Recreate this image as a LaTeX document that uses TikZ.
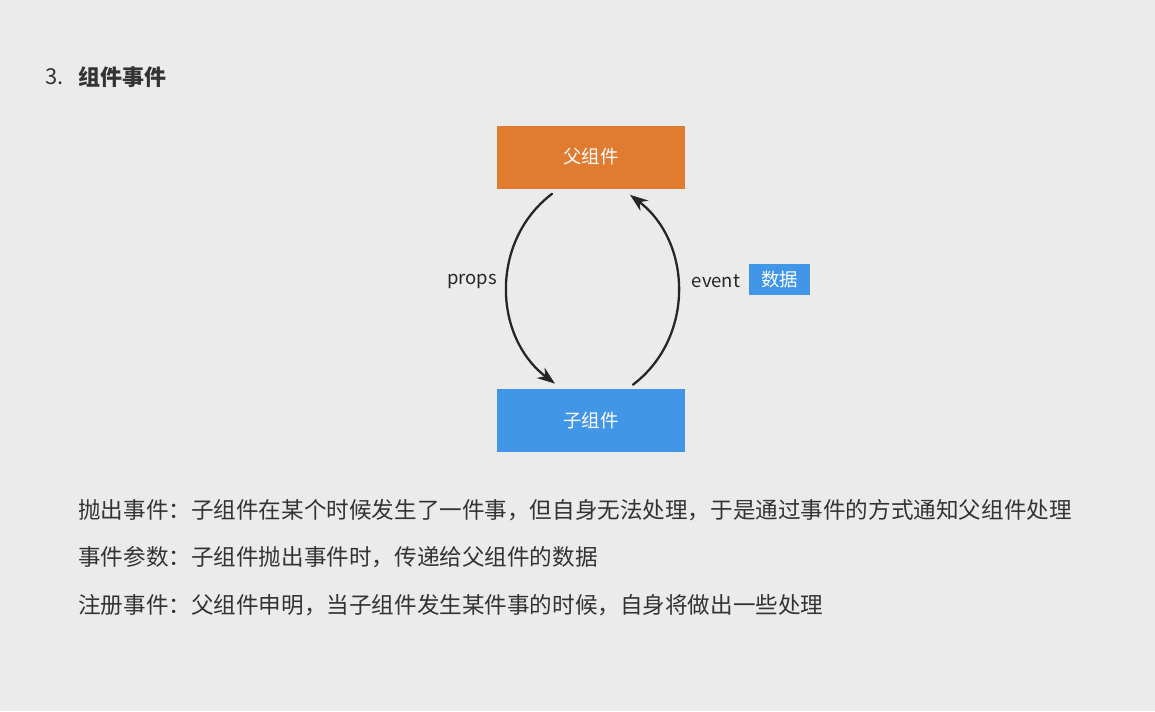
\documentclass[tikz,border=0pt]{standalone}
\usepackage{fontspec}
\setmainfont{Noto Sans CJK SC}
\usepackage{tikz}
\usetikzlibrary{positioning,arrows.meta,calc}
\usepackage{xcolor}
\definecolor{pagebg}{HTML}{EBEBEB}
\definecolor{parentorange}{HTML}{E07B30}
\definecolor{childblue}{HTML}{4196E8}
\definecolor{bodytext}{HTML}{333333}

\begin{document}
\begin{tikzpicture}[
  x=0.02cm, y=-0.02cm,
  >={Stealth[length=3.6mm, width=2.6mm]},
  comp/.style={minimum width=3.76cm, minimum height=1.26cm, inner sep=0pt, text=white, font=\fontsize{10.5}{12}\selectfont},
  tag/.style={fill=childblue, minimum width=1.22cm, minimum height=0.62cm, inner sep=0pt, text=white, font=\fontsize{10.5}{12}\selectfont},
  lbl/.style={text=black!85, font=\fontsize{10.5}{12}\selectfont, inner sep=1pt},
  line/.style={text=bodytext, anchor=west, inner sep=0pt, font=\fontsize{12.85}{15}\selectfont},
  flow/.style={->, line width=1.3pt, black!85, line cap=round},
]

% page
\fill[pagebg] (0,0) rectangle (1155,711);
\useasboundingbox (0,0) rectangle (1155,711);

% heading
\node[anchor=west, inner sep=0pt, text=bodytext, font=\fontsize{12.5}{15}\selectfont] (num) at (45,77) {3.};
\node[anchor=west, inner sep=0pt, text=bodytext, font=\fontsize{12.5}{15}\selectfont\bfseries] (title) at (78,77) {组件事件};

% components
\node[comp, fill=parentorange] (parent) at (591,157) {父组件};
\node[comp, fill=childblue] (child) at (591,420.5) {子组件};

% props down, event up
\draw[flow] ($(parent.south)+(-39,5)$) .. controls +(-62,47) and +(-62,-47) .. ($(child.north)+(-36,-5)$);
\draw[flow] ($(child.north)+(42,-4)$) .. controls +(62,-47) and +(62,47) .. ($(parent.south)+(39,6)$);

\node[lbl] (props) at (472,281) {props};
\node[lbl] (event) at (716,281) {event};
\node[tag] (data) at (779.5,279.5) {数据};

% explanations
\node[line] (throw) at (78,510) {抛出事件：子组件在某个时候发生了一件事，但自身无法处理，于是通过事件的方式通知父组件处理};
\node[line] (param) at (78,557) {事件参数：子组件抛出事件时，传递给父组件的数据};
\node[line] (reg) at (78,605) {注册事件：父组件申明，当子组件发生某件事的时候，自身将做出一些处理};

\end{tikzpicture}
\end{document}
